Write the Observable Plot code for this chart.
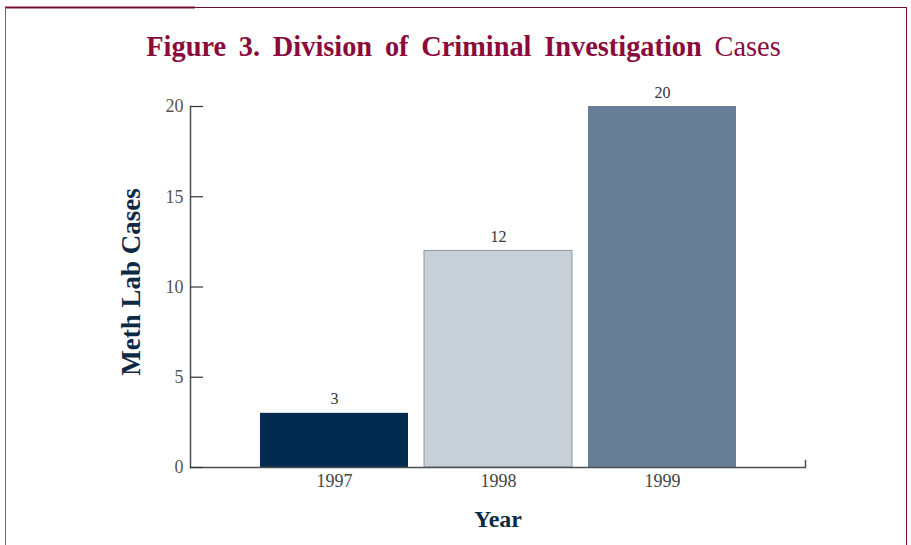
<!DOCTYPE html>
<html>
<head>
<meta charset="utf-8">
<script src="https://cdn.jsdelivr.net/npm/d3@7"></script>
<script src="https://cdn.jsdelivr.net/npm/@observablehq/plot@0.6"></script>
<style>
  html, body { margin: 0; padding: 0; background: #fff; }
  #wrap { position: relative; width: 911px; height: 545px; overflow: hidden; background: #fff; }
  #frame { position: absolute; left: 5px; top: 7px; width: 902px; height: 545px;
           border-top: 1px solid #6e1030; border-left: 1px solid #a0506a; border-right: 1px solid #6e1030; box-sizing: border-box; }
  #frameAccent { position: absolute; left: 5px; top: 6px; width: 190px; height: 3px; background: #c08a9a; }
  #title { position: absolute; left: 8px; top: 29px; width: 911px; text-align: center;
           font-family: "Liberation Serif", "Times New Roman", serif; font-size: 30px; color: #8a0b3c;
           word-spacing: 6px; white-space: nowrap; transform: scaleX(0.945); transform-origin: 50% 50%; }
  #title b { font-weight: bold; }
  #chart { position: absolute; left: 0; top: 80px; }
</style>
</head>
<body>
<div id="wrap">
  <div id="frameAccent"></div>
  <div id="frame"></div>
  <div id="title"><b>Figure 3. Division of Criminal Investigation</b> Cases</div>
  <div id="chart"></div>
</div>
<script>
const years = ["1997", "1998", "1999"];
const cases = [3, 12, 20];
const barColors = ["#032b4f", "#c8d0d7", "#687d96"];
const yTicks = [0, 5, 10, 15, 20];

const data = years.map((y, i) => ({year: y, cases: cases[i], color: barColors[i]}));

const plot = Plot.plot({
  width: 911,
  height: 465,
  marginLeft: 190,
  marginRight: 106,
  marginTop: 26,
  marginBottom: 78,
  style: {fontFamily: "'Liberation Serif', 'Times New Roman', serif", background: "transparent"},
  x: {domain: years, paddingInner: 0.1, paddingOuter: 0.425, label: null},
  y: {domain: [0, 20], label: null},
  marks: [
    Plot.barY(data, {x: "year", y: "cases", fill: "color", stroke: d => d.year === "1998" ? "#8e979f" : "none", strokeWidth: 1}),
    Plot.text(data, {x: "year", y: "cases", text: d => String(d.cases), dy: -14, fontSize: 16, fill: "#333"}),
    Plot.frame({anchor: "left", stroke: "#4a4f55", strokeWidth: 1.5}),
    Plot.frame({anchor: "right", insetTop: 354, stroke: "#4a4f55", strokeWidth: 1.5}),
    Plot.ruleY([0], {stroke: "#4a4f55", strokeWidth: 1.5}),
    Plot.axisY(yTicks, {anchor: "left", tickSize: -13, text: null, stroke: "#333", strokeWidth: 1.2, label: null}),
    Plot.axisY(yTicks, {anchor: "left", tickSize: 0, tickPadding: 7, fontSize: 18, fill: "#555", label: null}),
    Plot.axisX({tickSize: 0, tickPadding: 7, fontSize: 18, fill: "#444", label: null}),
    Plot.text(["Meth Lab Cases"], {frameAnchor: "left", text: d => d, rotate: -90, textAnchor: "middle", dx: -59, dy: -5, fontSize: 27, fontWeight: "bold", fill: "#0d2a45"}),
    Plot.text(["Year"], {frameAnchor: "bottom", text: d => d, dy: 59, fontSize: 24, fontWeight: "bold", fill: "#0d2a45"})
  ]
});
document.getElementById("chart").appendChild(plot);
</script>
</body>
</html>
